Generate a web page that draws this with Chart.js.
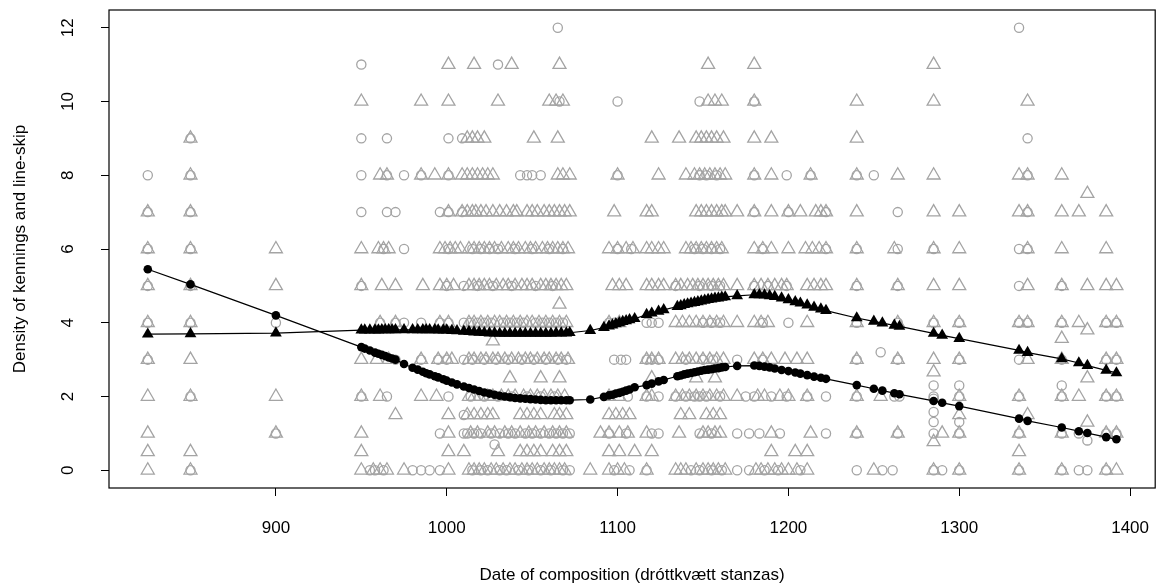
<!DOCTYPE html>
<html lang="en">
<head>
    <meta charset="UTF-8">
    <title>Density of kennings and line-skip</title>
    <script src="https://cdn.jsdelivr.net/npm/chart.js"></script>
    <style>
        body { margin: 0; background: #fff; }
    </style>
</head>
<body>
    <canvas id="densityChart" width="1164" height="587"></canvas>

    <script>
        // axis ticks
        const xTicks = [900, 1000, 1100, 1200, 1300, 1400];
        const yTicks = [0, 2, 4, 6, 8, 10, 12];

        // grey triangles: stanza dates at each density value
        const tri0 = [825, 850, 950, 957, 961, 965, 975, 1001, 1013, 1016, 1019, 1022, 1026, 1029, 1033, 1037, 1040, 1044, 1047, 1050, 1053, 1057, 1060, 1063, 1066, 1069, 1084, 1095, 1100, 1104, 1117, 1134, 1137, 1140, 1146, 1150, 1153, 1156, 1159, 1163, 1181, 1184, 1188, 1192, 1196, 1200, 1205, 1211, 1250, 1285, 1300, 1335, 1360, 1386, 1392];
        const tri05 = [825, 850, 950, 1001, 1010, 1030, 1043, 1047, 1051, 1055, 1062, 1066, 1070, 1095, 1101, 1110, 1120, 1190, 1204, 1211, 1335];
        const tri1 = [825, 900, 950, 1001, 1014, 1018, 1024, 1028, 1034, 1038, 1043, 1048, 1052, 1057, 1062, 1066, 1070, 1090, 1095, 1101, 1106, 1117, 1136, 1150, 1153, 1157, 1160, 1190, 1213, 1240, 1264, 1290, 1300, 1335, 1360, 1386, 1392];
        const tri15 = [970, 1001, 1012, 1016, 1020, 1024, 1027, 1043, 1047, 1051, 1055, 1063, 1066, 1070, 1095, 1099, 1103, 1107, 1137, 1142, 1152, 1156, 1160, 1300, 1340];
        const tri2 = [825, 850, 900, 950, 961, 985, 994, 1013, 1016, 1019, 1024, 1027, 1032, 1036, 1040, 1045, 1049, 1053, 1057, 1061, 1065, 1069, 1095, 1101, 1117, 1120, 1134, 1138, 1142, 1146, 1150, 1154, 1158, 1162, 1170, 1182, 1186, 1195, 1200, 1211, 1240, 1254, 1300, 1335, 1360, 1370, 1386, 1392];
        const tri25 = [1037, 1055, 1066, 1120, 1146, 1157, 1375];
        const tri3 = [825, 850, 950, 959, 966, 985, 995, 1000, 1003, 1013, 1016, 1020, 1023, 1027, 1030, 1034, 1038, 1042, 1046, 1049, 1053, 1057, 1060, 1064, 1067, 1071, 1117, 1120, 1124, 1134, 1138, 1142, 1146, 1150, 1154, 1158, 1162, 1180, 1185, 1190, 1198, 1205, 1211, 1240, 1264, 1285, 1300, 1340, 1360, 1386, 1392];
        const tri4 = [825, 850, 961, 970, 996, 1001, 1013, 1016, 1020, 1024, 1028, 1031, 1035, 1039, 1043, 1047, 1050, 1054, 1058, 1062, 1066, 1070, 1095, 1101, 1134, 1138, 1142, 1146, 1150, 1154, 1158, 1162, 1170, 1180, 1184, 1188, 1211, 1240, 1264, 1285, 1300, 1335, 1340, 1360, 1370, 1386, 1392];
        const tri5 = [825, 850, 900, 950, 962, 970, 986, 996, 1000, 1004, 1013, 1016, 1019, 1022, 1025, 1029, 1033, 1036, 1040, 1044, 1047, 1050, 1055, 1058, 1061, 1064, 1067, 1070, 1097, 1101, 1105, 1117, 1120, 1124, 1127, 1134, 1137, 1141, 1144, 1147, 1150, 1153, 1156, 1159, 1162, 1170, 1180, 1184, 1188, 1192, 1196, 1199, 1211, 1215, 1219, 1222, 1240, 1264, 1285, 1300, 1340, 1360, 1375, 1386, 1392];
        const tri6 = [825, 850, 900, 950, 960, 963, 966, 996, 999, 1002, 1005, 1008, 1013, 1016, 1019, 1022, 1025, 1028, 1032, 1036, 1039, 1042, 1046, 1049, 1052, 1056, 1059, 1062, 1065, 1068, 1071, 1095, 1100, 1105, 1109, 1117, 1120, 1124, 1127, 1140, 1143, 1146, 1149, 1152, 1155, 1158, 1161, 1180, 1185, 1190, 1200, 1210, 1214, 1218, 1222, 1240, 1262, 1285, 1300, 1340, 1360, 1386];
        const tri7 = [825, 850, 1001, 1009, 1012, 1015, 1017, 1020, 1023, 1027, 1031, 1035, 1039, 1041, 1047, 1050, 1053, 1057, 1060, 1063, 1066, 1069, 1072, 1098, 1117, 1120, 1146, 1149, 1152, 1155, 1158, 1161, 1163, 1170, 1180, 1190, 1200, 1207, 1216, 1219, 1222, 1240, 1285, 1300, 1335, 1340, 1360, 1370, 1386];
        const tri8 = [850, 961, 965, 985, 993, 1001, 1009, 1012, 1015, 1018, 1021, 1024, 1027, 1065, 1068, 1072, 1100, 1124, 1140, 1145, 1148, 1151, 1154, 1157, 1160, 1163, 1180, 1190, 1213, 1240, 1264, 1285, 1335, 1340, 1360];
        const tri9 = [850, 1012, 1015, 1018, 1022, 1051, 1065, 1120, 1136, 1146, 1149, 1152, 1155, 1158, 1162, 1180, 1190, 1240];
        const tri10 = [950, 985, 1001, 1030, 1060, 1064, 1068, 1153, 1157, 1161, 1180, 1240, 1285, 1340];
        const tri11 = [1001, 1016, 1038, 1066, 1153, 1180, 1285];
        const triOddDates = [1066, 1027, 1360, 1375, 1285, 1285, 1375, 1375];
        const triOddValues = [4.5, 3.5, 3.57, 3.8, 2.66, 0.77, 1.3, 7.5];

        // grey circles: stanza dates at each density value
        const circ0 = [850, 955, 958, 963, 980, 985, 990, 996, 1015, 1020, 1024, 1031, 1035, 1042, 1048, 1055, 1061, 1068, 1072, 1098, 1107, 1117, 1143, 1148, 1155, 1161, 1170, 1177, 1186, 1194, 1207, 1240, 1255, 1261, 1285, 1290, 1300, 1335, 1360, 1370, 1375, 1386];
        const circ1 = [900, 996, 1010, 1012, 1016, 1020, 1026, 1031, 1036, 1040, 1046, 1050, 1055, 1060, 1064, 1068, 1072, 1095, 1105, 1120, 1124, 1148, 1155, 1170, 1177, 1183, 1195, 1222, 1240, 1264, 1285, 1300, 1335, 1360, 1370, 1386, 1392];
        const circ2 = [850, 950, 965, 1001, 1014, 1022, 1030, 1038, 1047, 1055, 1063, 1106, 1117, 1124, 1134, 1140, 1145, 1148, 1152, 1160, 1175, 1180, 1190, 1199, 1211, 1222, 1240, 1262, 1265, 1285, 1300, 1335, 1360, 1386, 1392];
        const circ3 = [825, 970, 985, 995, 1000, 1010, 1015, 1022, 1029, 1036, 1044, 1051, 1058, 1065, 1070, 1098, 1102, 1105, 1117, 1120, 1124, 1140, 1150, 1156, 1170, 1185, 1240, 1264, 1300, 1335, 1360, 1386, 1392];
        const circ4 = [825, 850, 900, 961, 970, 975, 985, 996, 1001, 1010, 1014, 1018, 1022, 1026, 1033, 1037, 1041, 1045, 1052, 1056, 1060, 1064, 1068, 1095, 1098, 1117, 1120, 1124, 1150, 1155, 1160, 1185, 1200, 1240, 1264, 1285, 1300, 1335, 1340, 1360, 1386, 1392];
        const circ5 = [825, 850, 950, 1000, 1010, 1018, 1027, 1038, 1052, 1062, 1134, 1148, 1155, 1160, 1180, 1188, 1199, 1240, 1264, 1335, 1360];
        const circ6 = [825, 850, 963, 975, 1001, 1015, 1020, 1025, 1030, 1040, 1050, 1060, 1068, 1100, 1108, 1145, 1150, 1155, 1160, 1185, 1222, 1240, 1264, 1285, 1335, 1340];
        const circ7 = [825, 850, 950, 965, 970, 996, 1001, 1009, 1180, 1200, 1222, 1264, 1340];
        const circ8 = [825, 850, 950, 965, 975, 985, 1001, 1043, 1047, 1050, 1055, 1100, 1148, 1152, 1158, 1180, 1199, 1213, 1240, 1250, 1340];
        const circ9 = [850, 950, 965, 1001, 1009, 1340];
        const circ10 = [1066, 1100, 1148, 1180];
        const circ11 = [950, 1030];
        const circ12 = [1065, 1335];
        const circOddDates = [1254, 1285, 1285, 1285, 1300, 1375, 1028, 1010, 1285, 1300, 1360];
        const circOddValues = [3.2, 1.94, 1.58, 1.31, 1.31, 0.81, 0.7, 1.5, 2.3, 2.3, 2.3];

        // smoothed trends, one point per stanza date
        const fitDates = [825, 850, 900, 950, 952, 955, 958, 960, 962, 964,
            966, 968, 970, 975, 980, 983, 986, 988, 990, 993,
            995, 998, 1000, 1003, 1006, 1010, 1013, 1016, 1019, 1022,
            1025, 1028, 1031, 1034, 1037, 1040, 1043, 1046, 1049, 1052,
            1055, 1058, 1061, 1064, 1067, 1070, 1072, 1084, 1092, 1095,
            1097, 1099, 1101, 1103, 1105, 1107, 1110, 1117, 1120, 1124,
            1127, 1135, 1137, 1139, 1141, 1143, 1145, 1147, 1149, 1151,
            1153, 1155, 1157, 1159, 1161, 1163, 1170, 1180, 1183, 1186,
            1189, 1192, 1196, 1200, 1204, 1207, 1211, 1215, 1219, 1222,
            1240, 1250, 1255, 1262, 1265, 1285, 1290, 1300, 1335, 1340,
            1360, 1370, 1375, 1386, 1392];
        const kenningFit = [3.69, 3.70, 3.72, 3.80, 3.80, 3.80, 3.80, 3.80, 3.81, 3.81,
            3.81, 3.81, 3.81, 3.81, 3.81, 3.81, 3.81, 3.81, 3.81, 3.81,
            3.80, 3.80, 3.80, 3.79, 3.78, 3.77, 3.76, 3.75, 3.74, 3.73,
            3.72, 3.72, 3.71, 3.71, 3.71, 3.71, 3.71, 3.71, 3.71, 3.71,
            3.71, 3.71, 3.71, 3.72, 3.72, 3.72, 3.73, 3.79, 3.87, 3.91,
            3.94, 3.97, 4.00, 4.03, 4.05, 4.08, 4.11, 4.22, 4.26, 4.31,
            4.35, 4.44, 4.46, 4.49, 4.51, 4.53, 4.55, 4.57, 4.59, 4.61,
            4.63, 4.64, 4.66, 4.67, 4.69, 4.70, 4.73, 4.76, 4.76, 4.75,
            4.73, 4.71, 4.67, 4.62, 4.57, 4.53, 4.48, 4.42, 4.37, 4.33,
            4.13, 4.04, 3.99, 3.93, 3.90, 3.71, 3.66, 3.57, 3.25, 3.19,
            3.02, 2.91, 2.84, 2.71, 2.64];
        const lineSkipFit = [5.45, 5.04, 4.20, 3.34, 3.30, 3.25, 3.19, 3.16, 3.13, 3.10,
            3.06, 3.03, 3.00, 2.88, 2.78, 2.73, 2.67, 2.63, 2.60, 2.55,
            2.52, 2.47, 2.43, 2.38, 2.33, 2.27, 2.23, 2.19, 2.15, 2.11,
            2.08, 2.05, 2.02, 2.00, 1.98, 1.96, 1.95, 1.94, 1.93, 1.92,
            1.91, 1.90, 1.90, 1.90, 1.90, 1.90, 1.90, 1.92, 1.99, 2.03,
            2.05, 2.08, 2.10, 2.13, 2.16, 2.19, 2.25, 2.31, 2.35, 2.41,
            2.45, 2.55, 2.57, 2.60, 2.62, 2.64, 2.66, 2.68, 2.70, 2.72,
            2.73, 2.74, 2.76, 2.77, 2.79, 2.80, 2.83, 2.84, 2.83, 2.81,
            2.79, 2.76, 2.72, 2.69, 2.65, 2.62, 2.58, 2.54, 2.51, 2.48,
            2.31, 2.21, 2.16, 2.09, 2.06, 1.88, 1.83, 1.74, 1.40, 1.34,
            1.16, 1.06, 1.01, 0.90, 0.84];

        const FONT = '"Liberation Sans", Arial, Helvetica, sans-serif';
        const GREY = '#a4a4a4';

        function atLevel(dates, v) {
            return dates.map(d => ({ x: d, y: v }));
        }
        function pairUp(xs, ys) {
            return xs.map((x, i) => ({ x: x, y: ys[i] }));
        }

        const triPoints = [].concat(
            atLevel(tri0, 0), atLevel(tri05, 0.5), atLevel(tri1, 1), atLevel(tri15, 1.5),
            atLevel(tri2, 2), atLevel(tri25, 2.5), atLevel(tri3, 3), atLevel(tri4, 4),
            atLevel(tri5, 5), atLevel(tri6, 6), atLevel(tri7, 7), atLevel(tri8, 8),
            atLevel(tri9, 9), atLevel(tri10, 10), atLevel(tri11, 11),
            pairUp(triOddDates, triOddValues));

        const circPoints = [].concat(
            atLevel(circ0, 0), atLevel(circ1, 1), atLevel(circ2, 2), atLevel(circ3, 3),
            atLevel(circ4, 4), atLevel(circ5, 5), atLevel(circ6, 6), atLevel(circ7, 7),
            atLevel(circ8, 8), atLevel(circ9, 9), atLevel(circ10, 10), atLevel(circ11, 11),
            atLevel(circ12, 12), pairUp(circOddDates, circOddValues));

        // box round the plot and rotated y labels, R style
        const rFrame = {
            id: 'rFrame',
            afterDatasetsDraw(chart) {
                const { ctx, chartArea: a } = chart;
                ctx.save();
                ctx.strokeStyle = '#000';
                ctx.lineWidth = 1.2;
                ctx.strokeRect(a.left, a.top, a.right - a.left, a.bottom - a.top);
                ctx.restore();
            },
            afterDraw(chart) {
                const ctx = chart.ctx;
                const ys = chart.scales.y;
                ctx.save();
                ctx.fillStyle = '#000';
                ctx.font = '17px ' + FONT;
                ctx.textAlign = 'center';
                ctx.textBaseline = 'middle';
                yTicks.forEach(v => {
                    ctx.save();
                    ctx.translate(68, ys.getPixelForValue(v));
                    ctx.rotate(-Math.PI / 2);
                    ctx.fillText(String(v), 0, 0);
                    ctx.restore();
                });
                ctx.restore();
            }
        };

        const ctx = document.getElementById('densityChart').getContext('2d');
        const chart = new Chart(ctx, {
            type: 'scatter',
            data: {
                datasets: [
                    {
                        label: 'Line-skip (trend)',
                        data: pairUp(fitDates, lineSkipFit),
                        showLine: true,
                        borderColor: '#000',
                        borderWidth: 1.2,
                        backgroundColor: '#000',
                        pointStyle: 'circle',
                        pointRadius: 4.3,
                        pointBorderWidth: 0,
                        tension: 0
                    },
                    {
                        label: 'Kennings (trend)',
                        data: pairUp(fitDates, kenningFit),
                        showLine: true,
                        borderColor: '#000',
                        borderWidth: 1.2,
                        backgroundColor: '#000',
                        pointStyle: 'triangle',
                        pointRadius: 6.8,
                        pointBorderWidth: 0,
                        tension: 0
                    },
                    {
                        label: 'Kennings',
                        data: triPoints,
                        pointStyle: 'triangle',
                        pointRadius: 7.5,
                        borderColor: GREY,
                        backgroundColor: 'rgba(0,0,0,0)',
                        pointBorderWidth: 1.3
                    },
                    {
                        label: 'Line-skip',
                        data: circPoints,
                        pointStyle: 'circle',
                        pointRadius: 4.6,
                        borderColor: GREY,
                        backgroundColor: 'rgba(0,0,0,0)',
                        pointBorderWidth: 1.3
                    }
                ]
            },
            options: {
                responsive: false,
                animation: false,
                devicePixelRatio: 1,
                events: [],
                layout: { padding: { top: 10, right: 2, left: 0, bottom: 0 } },
                plugins: {
                    legend: { display: false },
                    tooltip: { enabled: false }
                },
                scales: {
                    x: {
                        type: 'linear',
                        min: 802.3,
                        max: 1414.7,
                        afterBuildTicks: s => { s.ticks = xTicks.map(v => ({ value: v })); },
                        afterFit: s => { s.height = 99; s.paddingLeft = 0; s.paddingRight = 0; },
                        grid: { drawOnChartArea: false, drawTicks: true, tickLength: 8, color: '#000', lineWidth: 1 },
                        border: { display: false },
                        ticks: {
                            color: '#000',
                            padding: 22,
                            maxRotation: 0,
                            font: { family: FONT, size: 17 },
                            callback: v => String(v)
                        },
                        title: {
                            display: true,
                            text: 'Date of composition (dróttkvætt stanzas)',
                            color: '#000',
                            font: { family: FONT, size: 17 },
                            padding: { top: 0, bottom: 1 }
                        }
                    },
                    y: {
                        type: 'linear',
                        min: -0.48,
                        max: 12.48,
                        afterBuildTicks: s => { s.ticks = yTicks.map(v => ({ value: v })); },
                        afterFit: s => { s.width = 109; s.paddingTop = 0; s.paddingBottom = 0; },
                        grid: { drawOnChartArea: false, drawTicks: true, tickLength: 8, color: '#000', lineWidth: 1 },
                        border: { display: false },
                        ticks: { display: false },
                        title: {
                            display: true,
                            text: 'Density of kennings and line-skip',
                            color: '#000',
                            font: { family: FONT, size: 17 },
                            padding: { top: 10, bottom: 0 }
                        }
                    }
                }
            },
            plugins: [rFrame]
        });
    </script>
</body>
</html>
